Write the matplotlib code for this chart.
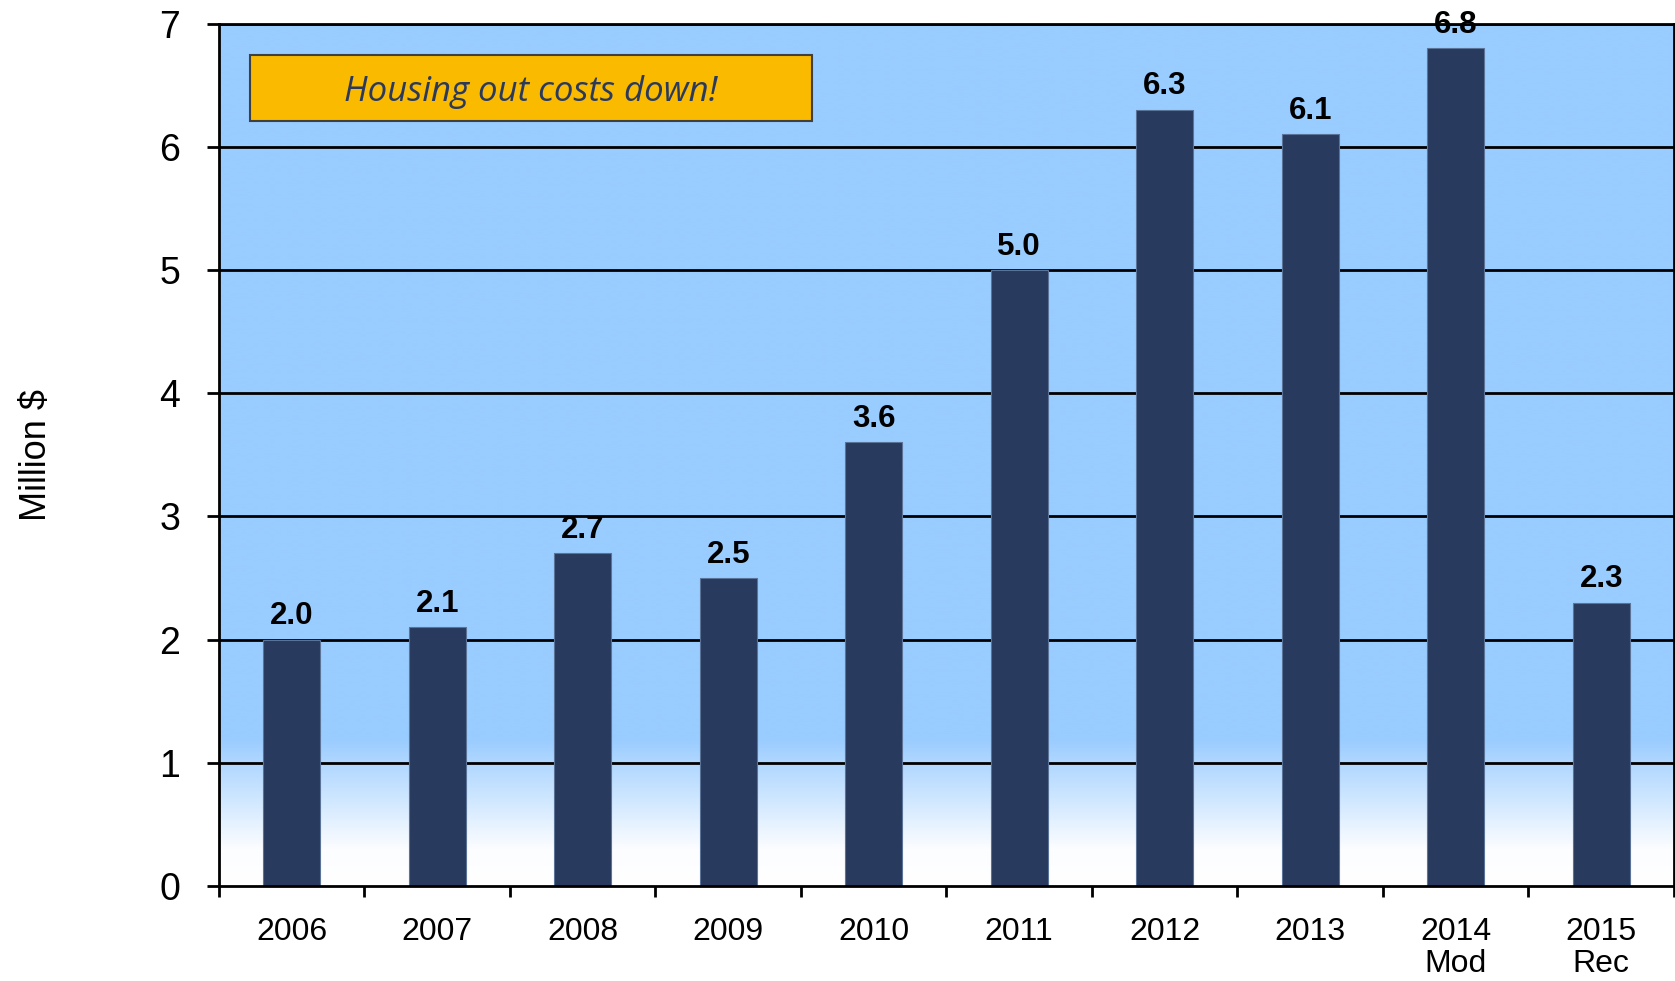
import numpy as np
import matplotlib
matplotlib.use("Agg")
import matplotlib.pyplot as plt
from matplotlib.colors import LinearSegmentedColormap
from matplotlib.patches import Rectangle

# chart data
years = ["2006", "2007", "2008", "2009", "2010", "2011", "2012", "2013", "2014\nMod", "2015\nRec"]
costs = [2.0, 2.1, 2.7, 2.5, 3.6, 5.0, 6.3, 6.1, 6.8, 2.3]
y_ticks = [0, 1, 2, 3, 4, 5, 6, 7]
note = "Housing out costs down!"

plt.rcParams['font.family'] = ['Liberation Sans', 'DejaVu Sans']

fig = plt.figure(figsize=(16.75, 9.81), dpi=100)
ax = fig.add_axes([0.1307, 0.0968, 0.8687, 0.8792])

x = np.arange(len(years))
ax.set_xlim(-0.5, len(years) - 0.5)
ax.set_ylim(0, 7)

# background: light blue fading to white near the bottom
cmap = LinearSegmentedColormap.from_list("bg", [(0, "#ffffff"), (0.04, "#fcfdff"),
                                                (0.17, "#99ccff"), (1, "#99ccff")])
grad = np.linspace(1, 0, 500).reshape(-1, 1)
ax.imshow(grad, cmap=cmap, extent=(-0.5, len(years) - 0.5, 0, 7), aspect="auto",
          vmin=0, vmax=1, zorder=0, interpolation="bilinear")

for yv in y_ticks[1:]:
    ax.axhline(yv, color="black", lw=2, zorder=1)

bars = ax.bar(x, costs, width=0.39, color="#283a5e", edgecolor="#5a7396", lw=0.8, zorder=2)
for xi, v in zip(x, costs):
    ax.annotate(f"{v:.1f}", (xi, v), xytext=(0, 6), textcoords="offset points",
                ha="center", va="bottom", fontsize=22.5, fontweight="bold",
                zorder=5, annotation_clip=False)

# note box
ax.add_patch(Rectangle((0.0213, 0.887), 0.386, 0.076, transform=ax.transAxes,
                       facecolor="#f9ba00", edgecolor="#404040", lw=1.5, zorder=3))
ax.text(0.0213 + 0.386 / 2, 0.921, note, transform=ax.transAxes, ha="center", va="center",
        fontsize=25, style="italic", family="Open Sans", color="#2b3a5c", zorder=4)

for s in ax.spines.values():
    s.set_linewidth(2)
    s.set_zorder(4)

ax.set_yticks(y_ticks)
ax.tick_params(axis="y", labelsize=27, length=9, width=2, pad=19)
ax.set_xticks(x)
ax.set_xticklabels(years, fontsize=23, linespacing=1.1)
ax.set_xticks(np.arange(-0.5, len(years), 1), minor=True)
ax.tick_params(axis="x", which="major", length=0, pad=22)
ax.tick_params(axis="x", which="minor", length=8, width=2)

ax.set_ylabel("Million $", fontsize=26)
ax.yaxis.set_label_coords(-0.113, 0.5)

fig.savefig("out.png", dpi=100)
